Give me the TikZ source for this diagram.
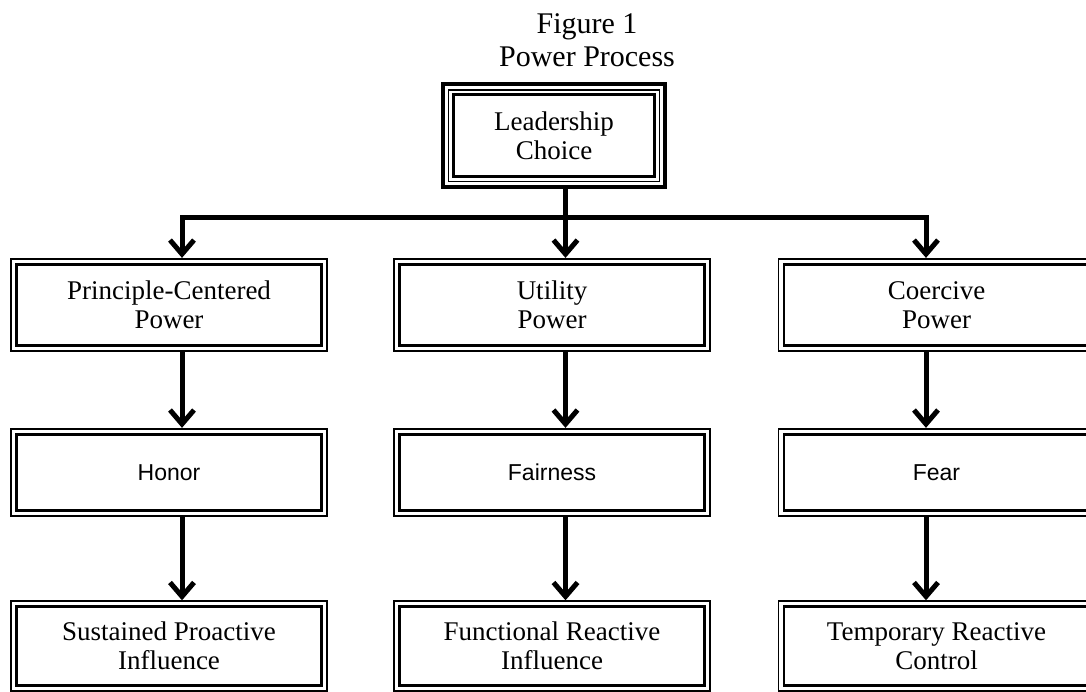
\documentclass[tikz,border=0pt]{standalone}
\usepackage{fontspec}
\setmainfont{Liberation Serif}
\newfontfamily\boxsans{Liberation Sans}
\usetikzlibrary{arrows.meta}
\begin{document}
\begin{tikzpicture}[x=1pt,y=-1pt,>={Straight Barb[length=14pt,width=24pt]},
  conn/.style={line width=5pt},
  dblbox/.style={preaction={draw,line width=12.8pt},preaction={draw=white,line width=9.2pt},
    fill=white,draw,line width=2.8pt,minimum width=305pt,outer sep=6.4pt,inner sep=0pt,
    align=center,font=\fontsize{27}{29}\selectfont},
  tribox/.style={preaction={draw,line width=25pt},preaction={draw=white,line width=17pt},
    preaction={draw,line width=11.3pt},preaction={draw=white,line width=8.7pt},
    fill=white,draw,line width=3pt,minimum width=201pt,minimum height=81.5pt,outer sep=12.5pt,
    inner sep=0pt,align=center,font=\fontsize{27}{29}\selectfont},
  midtext/.style={font=\boxsans\fontsize{23}{26}\selectfont},
  titletext/.style={font=\fontsize{30}{33.4}\selectfont,anchor=base}]
\clip (0,0) rectangle (1086,692);
\node[titletext] (fig) at (587,33.3) {Figure 1};
\node[titletext] (tname) at (587,66.7) {Power Process};
\node[tribox] (lead) at (554,135.75) {Leadership\\Choice};
\node[dblbox,minimum height=81pt] (p1) at (169,304.8) {Principle-Centered\\Power};
\node[dblbox,minimum height=81pt] (p2) at (552,304.8) {Utility\\Power};
\node[dblbox,minimum height=81pt] (p3) at (936.5,304.8) {Coercive\\Power};
\node[dblbox,midtext,minimum height=76.5pt] (h1) at (169,472.5) {Honor};
\node[dblbox,midtext,minimum height=76.5pt] (h2) at (552,472.5) {Fairness};
\node[dblbox,midtext,minimum height=76.5pt] (h3) at (936.5,472.5) {Fear};
\node[dblbox,minimum height=78.6pt] (r1) at (169,646) {Sustained Proactive\\Influence};
\node[dblbox,minimum height=78.6pt] (r2) at (552,646) {Functional Reactive\\Influence};
\node[dblbox,minimum height=78.6pt] (r3) at (936.5,646) {Temporary Reactive\\Control};
\coordinate (c1) at (182,217.5); \coordinate (c2) at (565.5,217.5); \coordinate (c3) at (926,217.5);
\draw[conn,<->] (p1.north -| c1) -- (c1) -- (c3) -- (p3.north -| c3);
\draw[conn,->] (lead.south -| c2) -- (p2.north -| c2);
\foreach \a/\b/\c in {p1/h1/c1,p2/h2/c2,p3/h3/c3,h1/r1/c1,h2/r2/c2,h3/r3/c3}
  \draw[conn,->] (\a.south -| \c) -- (\b.north -| \c);
\end{tikzpicture}
\end{document}
